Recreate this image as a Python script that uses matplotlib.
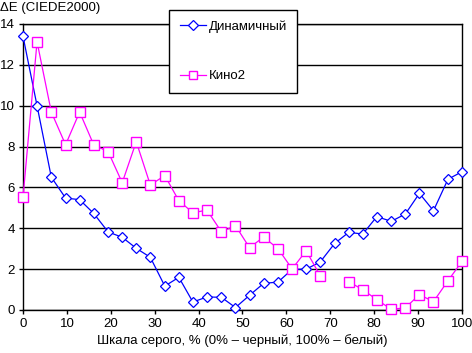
import matplotlib
matplotlib.use("Agg")
import matplotlib.pyplot as plt
import numpy as np

plt.rcParams['font.family'] = ['Liberation Sans', 'DejaVu Sans']

x = [0, 3.2, 6.45, 9.7, 12.9, 16.1, 19.4, 22.6, 25.8, 29.0, 32.3, 35.5, 38.7, 41.9, 45.2, 48.4,
     51.6, 54.8, 58.1, 61.3, 64.5, 67.7, 71.0, 74.2, 77.4, 80.6, 83.9, 87.1, 90.3, 93.5, 96.8, 100]
dinamichny = [13.4, 10.0, 6.5, 5.48, 5.4, 4.73, 3.82, 3.56, 3.02, 2.58, 1.17, 1.6, 0.39, 0.64, 0.62, 0.12,
              0.72, 1.3, 1.37, 1.99, 2.0, 2.35, 3.26, 3.8, 3.72, 4.57, 4.34, 4.7, 5.71, 4.86, 6.4, 6.77]
kino2 = [5.51, 13.13, 9.69, 8.09, 9.69, 8.09, 7.75, 6.23, 8.24, 6.12, 6.58, 5.35, 4.76, 4.89, 3.83, 4.13,
         3.05, 3.57, 3.0, 2.01, 2.9, 1.68, np.nan, 1.39, 0.99, 0.51, 0.03, 0.11, 0.75, 0.41, 1.43, 2.38]
labels = ['Динамичный', 'Кино2']
xticks = [0, 10, 20, 30, 40, 50, 60, 70, 80, 90, 100]
yticks = [0, 2, 4, 6, 8, 10, 12, 14]

FS = 9.5
fig = plt.figure(figsize=(4.72, 3.53), dpi=100)
ax = fig.add_axes([23/472, 1 - 310/353, 439/472, 286/353])

ax.plot(x, dinamichny, color='#0000ff', lw=0.9, marker='D', markersize=5.5,
        markerfacecolor='white', markeredgecolor='#0000ff', markeredgewidth=0.9,
        label=labels[0], clip_on=False, zorder=3)
ax.plot(x, kino2, color='#ff00ff', lw=0.9, marker='s', markersize=7,
        markerfacecolor='white', markeredgecolor='#ff00ff', markeredgewidth=1.0,
        label=labels[1], clip_on=False, zorder=3)

ax.set_xlim(0, 100)
ax.set_ylim(0, 14)
ax.set_xticks(xticks)
ax.set_yticks(yticks)
ax.yaxis.grid(True, color='black', lw=1)
ax.set_axisbelow(True)
for s in ax.spines.values():
    s.set_color('black')
    s.set_linewidth(1)
ax.tick_params(direction='out', length=3, width=1, labelsize=FS, colors='black', pad=3)

ax.set_xlabel('Шкала серого, % (0% – черный, 100% – белый)', fontsize=FS, labelpad=3)
fig.text(0.0, 1 - 8/353, 'ΔE (CIEDE2000)', fontsize=FS, va='center', ha='left')

leg = ax.legend(loc='upper left', bbox_to_anchor=((169-23)/439, (310-10)/286),
                bbox_transform=ax.transAxes, frameon=True, fancybox=False,
                edgecolor='black', fontsize=FS, labelspacing=2.8, handlelength=2.0,
                borderpad=0.8, handletextpad=0.2, borderaxespad=0, markerscale=0.85)
leg.get_frame().set_linewidth(1)
leg.get_frame().set_alpha(1)

fig.savefig('out.png', dpi=100)
